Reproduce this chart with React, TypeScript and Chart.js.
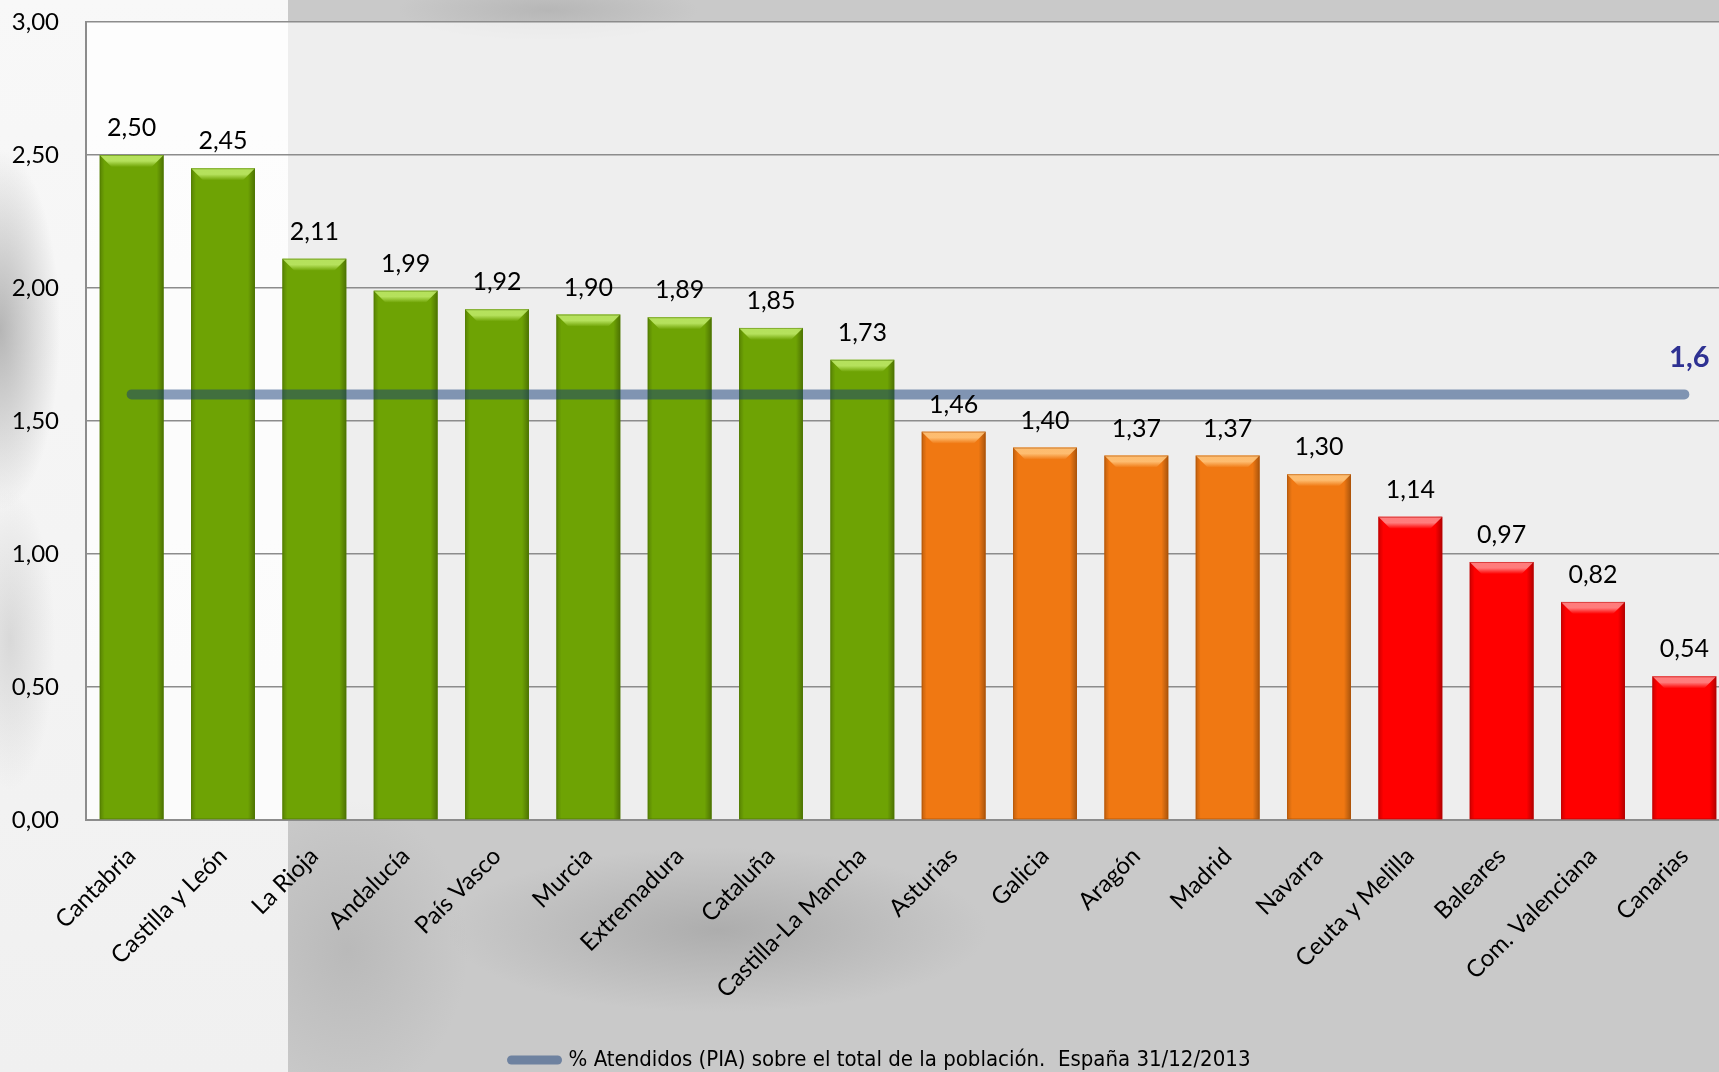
import React, { useEffect, useRef } from 'react';
import { Chart, registerables } from 'chart.js';

Chart.register(...registerables);

const CATEGORIES = [
  'Cantabria', 'Castilla y León', 'La Rioja', 'Andalucía', 'País Vasco', 'Murcia',
  'Extremadura', 'Cataluña', 'Castilla-La Mancha', 'Asturias', 'Galicia', 'Aragón',
  'Madrid', 'Navarra', 'Ceuta y Melilla', 'Baleares', 'Com. Valenciana', 'Canarias',
];
const VALUES = [
  2.5, 2.45, 2.11, 1.99, 1.92, 1.9, 1.89, 1.85, 1.73,
  1.46, 1.4, 1.37, 1.37, 1.3,
  1.14, 0.97, 0.82, 0.54,
];
const GROUPS = [
  'green', 'green', 'green', 'green', 'green', 'green', 'green', 'green', 'green',
  'orange', 'orange', 'orange', 'orange', 'orange',
  'red', 'red', 'red', 'red',
];
const AVERAGE = 1.6;
const AVERAGE_LABEL = '1,6';
const LEGEND_LABEL = '% Atendidos (PIA) sobre el total de la población.  España 31/12/2013';
const Y_MIN = 0;
const Y_MAX = 3;
const Y_STEP = 0.5;

const PALETTE: Record<string, { base: string; light: string; dark: string }> = {
  green: { base: '#6ea304', light: '#bde866', dark: '#4e7800' },
  orange: { base: '#f07812', light: '#ffc47a', dark: '#b05000' },
  red: { base: '#ff0000', light: '#ff8a8a', dark: '#b80000' },
};

const LABEL_FONT = 'Lato, "Open Sans", sans-serif';
const LEGEND_FONT = '"Liberation Sans Narrow", "DejaVu Sans Condensed", sans-serif';

const fmt = (v: number, d = 2) => v.toFixed(d).replace('.', ',');

const plotBgPlugin = {
  id: 'plotBg',
  afterLayout(chart: any) {
    const lg = chart.legend;
    if (lg) {
      lg.left += 16;
      lg.right += 16;
      lg.top += 9;
      lg.bottom += 9;
    }
  },
  beforeDraw(chart: any) {
    const { ctx, chartArea } = chart;
    ctx.save();
    ctx.fillStyle = 'rgba(255,255,255,0.68)';
    ctx.fillRect(chartArea.left, chartArea.top, chartArea.right - chartArea.left, chartArea.bottom - chartArea.top);
    ctx.restore();
  },
};

const bevelPlugin = {
  id: 'bevel',
  afterDatasetDraw(chart: any, args: any) {
    if (args.index !== 0) return;
    const ctx = chart.ctx;
    args.meta.data.forEach((el: any, i: number) => {
      const { x, y, base, width } = el.getProps(['x', 'y', 'base', 'width'], true);
      const l = x - width / 2;
      const r = x + width / 2;
      const h = base - y;
      const b = Math.min(12, h / 2);
      const pal = PALETTE[GROUPS[i]];
      ctx.save();
      let g = ctx.createLinearGradient(l, 0, l + 5, 0);
      g.addColorStop(0, 'rgba(0,0,0,0.2)');
      g.addColorStop(1, 'rgba(0,0,0,0)');
      ctx.fillStyle = g;
      ctx.fillRect(l, y, 5, h);
      g = ctx.createLinearGradient(r - 7, 0, r, 0);
      g.addColorStop(0, 'rgba(0,0,0,0)');
      g.addColorStop(1, 'rgba(0,0,0,0.3)');
      ctx.fillStyle = g;
      ctx.fillRect(r - 7, y, 7, h);
      ctx.beginPath();
      ctx.moveTo(l, y);
      ctx.lineTo(r, y);
      ctx.lineTo(r - b, y + b);
      ctx.lineTo(l + b, y + b);
      ctx.closePath();
      g = ctx.createLinearGradient(0, y, 0, y + b);
      g.addColorStop(0, pal.light);
      g.addColorStop(0.5, pal.light);
      g.addColorStop(1, pal.base);
      ctx.fillStyle = g;
      ctx.globalAlpha = 0.9;
      ctx.fill();
      ctx.globalAlpha = 0.5;
      ctx.strokeStyle = pal.dark;
      ctx.lineWidth = 1;
      ctx.strokeRect(l + 0.5, y + 0.5, width - 1, h - 1);
      ctx.restore();
    });
  },
};

const labelsPlugin = {
  id: 'valueLabels',
  afterDraw(chart: any) {
    const ctx = chart.ctx;
    ctx.save();
    ctx.font = `25px ${LABEL_FONT}`;
    ctx.fillStyle = '#000';
    ctx.textAlign = 'center';
    ctx.textBaseline = 'alphabetic';
    const barMeta = chart.getDatasetMeta(0);
    barMeta.data.forEach((el: any, i: number) => {
      ctx.fillText(fmt(VALUES[i]), el.x, el.y - 19);
    });
    const lineMeta = chart.getDatasetMeta(1);
    const last = lineMeta.data[lineMeta.data.length - 1];
    ctx.font = `bold 29px ${LABEL_FONT}`;
    ctx.fillStyle = '#2e3192';
    ctx.fillText(AVERAGE_LABEL, last.x + 5, last.y - 27);
    ctx.restore();
  },
};

export default function App() {
  const ref = useRef<HTMLCanvasElement | null>(null);
  useEffect(() => {
    if (!ref.current) return;
    const chart = new Chart(ref.current, {
      type: 'bar',
      data: {
        labels: CATEGORIES,
        datasets: [
          {
            type: 'bar',
            label: 'valores',
            data: VALUES,
            backgroundColor: GROUPS.map((g) => PALETTE[g].base),
            borderWidth: 0,
            categoryPercentage: 1,
            barPercentage: 0.7,
            order: 1,
          } as any,
          {
            type: 'line',
            label: LEGEND_LABEL,
            data: CATEGORIES.map(() => AVERAGE),
            borderColor: 'rgba(20,60,120,0.5)',
            backgroundColor: 'rgba(20,60,120,0.5)',
            borderWidth: 10,
            borderCapStyle: 'round',
            pointRadius: 0,
            fill: false,
            order: 0,
          } as any,
        ],
      },
      options: {
        responsive: false,
        animation: false,
        devicePixelRatio: 1,
        layout: { padding: { top: 0, right: 10, left: 0, bottom: 0 } },
        plugins: {
          tooltip: { enabled: false },
          legend: {
            position: 'bottom',
            labels: {
              generateLabels: (chart: any) =>
                Chart.defaults.plugins.legend.labels
                  .generateLabels(chart)
                  .filter((it: any) => it.datasetIndex === 1)
                  .map((it: any) => ({ ...it, lineCap: 'round', lineWidth: 9 })),
              usePointStyle: true,
              pointStyle: 'line',
              pointStyleWidth: 46,
              color: '#000',
              padding: 8,
              font: { family: LEGEND_FONT, size: 22 },
            },
          },
        },
        scales: {
          x: {
            afterFit: (s: any) => { s.height = 212; },
            grid: { display: false },
            border: { display: true, color: '#8c8c8c', width: 2 },
            ticks: {
              autoSkip: false,
              maxRotation: 45,
              minRotation: 45,
              color: '#000',
              padding: 14,
              font: { family: LABEL_FONT, size: 24 },
            },
          },
          y: {
            min: Y_MIN,
            max: Y_MAX,
            afterFit: (s: any) => { s.width = 86; s.paddingTop = 22; },
            grid: { color: '#8c8c8c', lineWidth: 1.5, drawTicks: false },
            border: { display: true, color: '#8c8c8c', width: 2 },
            ticks: {
              stepSize: Y_STEP,
              padding: 27,
              color: '#000',
              font: { family: LABEL_FONT, size: 24 },
              callback: (v: any) => fmt(Number(v)),
            },
          },
        },
      },
      plugins: [plotBgPlugin, bevelPlugin, labelsPlugin],
    });
    return () => chart.destroy();
  }, []);

  return (
    <div
      style={{
        position: 'fixed',
        left: 0,
        top: 0,
        width: 1719,
        height: 1072,
        overflow: 'hidden',
        background: [
          'radial-gradient(ellipse 80px 240px at 0px 330px, rgba(160,160,160,0.75), rgba(160,160,160,0) 75%)',
          'radial-gradient(ellipse 60px 200px at 10px 640px, rgba(190,190,190,0.5), rgba(190,190,190,0) 75%)',
          'linear-gradient(to bottom, #f8f8f8 0px, #f0f0f0 1072px)',
        ].join(', '),
      }}
    >
      <div
        style={{
          position: 'absolute',
          left: 288,
          top: 0,
          right: 0,
          bottom: 0,
          background: [
            'radial-gradient(ellipse 360px 110px at 430px 930px, rgba(150,150,150,0.55), rgba(150,150,150,0) 75%)',
            'radial-gradient(ellipse 200px 40px at 260px 10px, rgba(170,170,170,0.6), rgba(170,170,170,0) 75%)',
            'radial-gradient(ellipse 160px 200px at 60px 950px, rgba(170,170,170,0.5), rgba(170,170,170,0) 75%)',
            '#c9c9c9',
          ].join(', '),
        }}
      />
      <canvas
        ref={ref}
        width={1740}
        height={1072}
        style={{ position: 'absolute', left: 0, top: 0, width: 1740, height: 1072 }}
      />
    </div>
  );
}
